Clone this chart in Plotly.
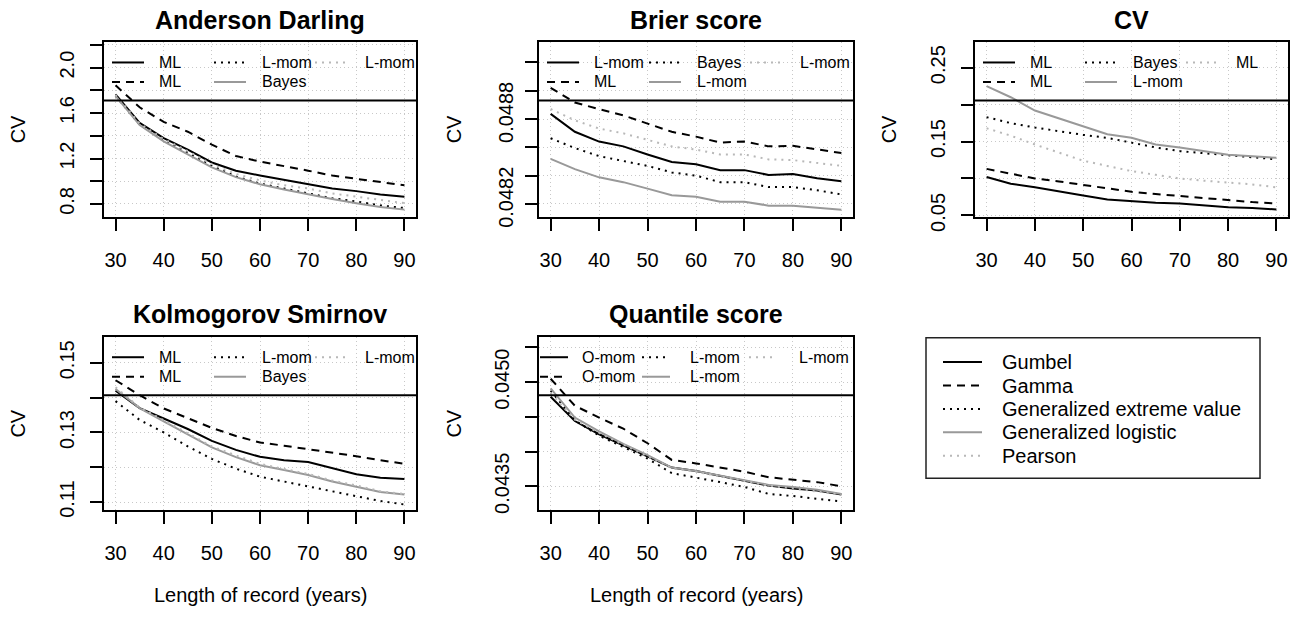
import plotly.graph_objects as go

W, H = 1295, 625

# ---------------- data ----------------
years = [30, 35, 40, 45, 50, 55, 60, 65, 70, 75, 80, 85, 90]

# Anderson Darling
ad_gum = [1.765, 1.514, 1.379, 1.279, 1.165, 1.093, 1.050, 1.013, 0.979, 0.936, 0.913, 0.884, 0.864]
ad_gam = [1.845, 1.651, 1.522, 1.436, 1.322, 1.222, 1.173, 1.136, 1.093, 1.050, 1.021, 0.993, 0.964]
ad_gev = [1.751, 1.499, 1.365, 1.250, 1.136, 1.041, 0.979, 0.936, 0.893, 0.850, 0.822, 0.787, 0.764]
ad_glo = [1.751, 1.494, 1.351, 1.236, 1.122, 1.036, 0.973, 0.927, 0.884, 0.844, 0.807, 0.773, 0.750]
ad_pe3 = [1.760, 1.508, 1.371, 1.265, 1.150, 1.064, 1.007, 0.964, 0.936, 0.893, 0.864, 0.836, 0.807]

# Brier score
bs_gum = [0.048787, 0.048660, 0.048591, 0.048557, 0.048500, 0.048447, 0.048431, 0.048389, 0.048389, 0.048355, 0.048362, 0.048331, 0.048311]
bs_gam = [0.048971, 0.048867, 0.048820, 0.048776, 0.048718, 0.048660, 0.048626, 0.048584, 0.048591, 0.048557, 0.048561, 0.048538, 0.048510]
bs_gev = [0.048614, 0.048545, 0.048488, 0.048453, 0.048419, 0.048373, 0.048350, 0.048304, 0.048304, 0.048269, 0.048269, 0.048247, 0.048217]
bs_glo = [0.048469, 0.048396, 0.048338, 0.048304, 0.048258, 0.048212, 0.048200, 0.048166, 0.048166, 0.048138, 0.048138, 0.048124, 0.048109]
bs_pe3 = [0.048821, 0.048741, 0.048683, 0.048649, 0.048603, 0.048557, 0.048534, 0.048500, 0.048500, 0.048465, 0.048460, 0.048442, 0.048419]

# CV
cv_gum = [0.102, 0.093, 0.088, 0.082, 0.077, 0.0715, 0.069, 0.067, 0.066, 0.063, 0.061, 0.060, 0.058]
cv_gam = [0.113, 0.106, 0.100, 0.096, 0.091, 0.086, 0.082, 0.079, 0.076, 0.073, 0.070, 0.068, 0.066]
cv_gev = [0.183, 0.175, 0.169, 0.164, 0.159, 0.155, 0.148, 0.142, 0.137, 0.134, 0.131, 0.128, 0.126]
cv_glo = [0.225, 0.210, 0.192, 0.181, 0.170, 0.160, 0.155, 0.146, 0.142, 0.137, 0.132, 0.130, 0.128]
cv_pe3 = [0.168, 0.158, 0.146, 0.135, 0.124, 0.117, 0.110, 0.105, 0.100, 0.097, 0.095, 0.092, 0.088]

# Kolmogorov Smirnov
ks_gum = [0.1420, 0.1370, 0.1340, 0.1310, 0.1276, 0.1250, 0.1230, 0.1220, 0.1215, 0.1197, 0.1180, 0.1170, 0.1166]
ks_gam = [0.1450, 0.1407, 0.1369, 0.1340, 0.1313, 0.1290, 0.1271, 0.1262, 0.1252, 0.1243, 0.1232, 0.1220, 0.1210]
ks_gev = [0.1390, 0.1336, 0.1300, 0.1260, 0.1224, 0.1196, 0.1173, 0.1159, 0.1145, 0.1131, 0.1117, 0.1103, 0.1093]
ks_glo = [0.1425, 0.1370, 0.1332, 0.1294, 0.1257, 0.1229, 0.1206, 0.1192, 0.1178, 0.1159, 0.1145, 0.1129, 0.1122]
ks_pe3 = [0.1430, 0.1372, 0.1335, 0.1297, 0.1260, 0.1234, 0.1210, 0.1195, 0.1181, 0.1162, 0.1148, 0.1131, 0.1123]

# Quantile score
qs_gum = [0.04479, 0.04444, 0.04425, 0.04409, 0.04393, 0.04377, 0.04372, 0.04365, 0.04359, 0.04351, 0.04347, 0.04344, 0.04338]
qs_gam = [0.04505, 0.04466, 0.04449, 0.04433, 0.04412, 0.04388, 0.04383, 0.04377, 0.04371, 0.04363, 0.04359, 0.04356, 0.04350]
qs_gev = [0.04488, 0.04445, 0.04423, 0.04407, 0.04390, 0.04369, 0.04363, 0.04356, 0.04349, 0.04339, 0.04336, 0.04332, 0.04328]
qs_glo = [0.04491, 0.04449, 0.04429, 0.04411, 0.04395, 0.04377, 0.04372, 0.04365, 0.04359, 0.04352, 0.04349, 0.04345, 0.04339]
qs_pe3 = [0.04484, 0.04446, 0.04427, 0.04410, 0.04394, 0.04376, 0.04371, 0.04364, 0.04358, 0.04351, 0.04347, 0.04343, 0.04338]

dist_names = ["Gumbel", "Gamma", "Generalized extreme value", "Generalized logistic", "Pearson"]

x_ticks = [30, 40, 50, 60, 70, 80, 90]

ad_ticks = [0.8, 1.0, 1.2, 1.4, 1.6, 1.8, 2.0, 2.2]
ad_labels = ["0.8", "", "1.2", "", "1.6", "", "2.0", ""]
bs_ticks = [0.04815, 0.04835, 0.04855, 0.04875, 0.04895, 0.04915]
bs_labels = ["", "", "", "", "", ""]
bs_label_vals = [0.0482, 0.0488]
bs_label_text = ["0.0482", "0.0488"]
cv_ticks = [0.05, 0.10, 0.15, 0.20, 0.25]
cv_labels = ["0.05", "", "0.15", "", "0.25"]
ks_ticks = [0.11, 0.12, 0.13, 0.14, 0.15]
ks_labels = ["0.11", "", "0.13", "", "0.15"]
qs_ticks = [0.0435, 0.0440, 0.0445, 0.0450, 0.0455]
qs_labels = ["0.0435", "", "", "0.0450", ""]

# ---------------- styles ----------------
FONT = "Liberation Sans, Arial, Helvetica, sans-serif"
STYLES = [
    dict(color="black", width=2, dash="solid"),
    dict(color="black", width=2, dash="8px,6px"),
    dict(color="black", width=2, dash="2px,5px"),
    dict(color="#999999", width=2, dash="solid"),
    dict(color="#b8b8b8", width=2, dash="2px,5px"),
]

panels = [
    dict(title="Anderson Darling", series=[ad_gum, ad_gam, ad_gev, ad_glo, ad_pe3],
         box=(104, 43, 416, 222), yrange=[0.688, 2.226], tv=ad_ticks, tt=ad_labels,
         leg=["ML", "ML", "L-mom", "Bayes", "L-mom"], legpos="std", ylabx=18, xlab=False),
    dict(title="Brier score", series=[bs_gum, bs_gam, bs_gev, bs_glo, bs_pe3],
         box=(539, 43, 853, 222), yrange=[0.04806, 0.049295], tv=bs_ticks, tt=bs_labels,
         leg=["L-mom", "ML", "Bayes", "L-mom", "L-mom"], legpos="std", ylabx=454, xlab=False),
    dict(title="CV", series=[cv_gum, cv_gam, cv_gev, cv_glo, cv_pe3],
         box=(975, 43, 1288, 222), yrange=[0.0483, 0.2848], tv=cv_ticks, tt=cv_labels,
         leg=["ML", "ML", "Bayes", "L-mom", "ML"], legpos="std", ylabx=889, xlab=False),
    dict(title="Kolmogorov Smirnov", series=[ks_gum, ks_gam, ks_gev, ks_glo, ks_pe3],
         box=(104, 345, 416, 523), yrange=[0.1076, 0.1575], tv=ks_ticks, tt=ks_labels,
         leg=["ML", "ML", "L-mom", "Bayes", "L-mom"], legpos="std", ylabx=18, xlab=True),
    dict(title="Quantile score", series=[qs_gum, qs_gam, qs_gev, qs_glo, qs_pe3],
         box=(539, 345, 853, 523), yrange=[0.043152, 0.045655], tv=qs_ticks, tt=qs_labels,
         leg=["O-mom", "O-mom", "L-mom", "L-mom", "L-mom"], legpos="wide", ylabx=454, xlab=True),
]

LEG_LAYOUT = {
    "std": dict(line_x=[8, 110, 211], line_len=32, text_x=[53, 156, 259]),
    "wide": dict(line_x=[1, 103, 210], line_len=28, text_x=[41, 149, 258]),
}


def px(x):
    return x / W


def py(y):
    return 1 - y / H


fig = go.Figure()
shapes = []
annotations = []
layout_axes = {}

for i, p in enumerate(panels):
    n = i + 1
    sfx = "" if n == 1 else str(n)
    L, T, R, B = p["box"]
    for vals, st in zip(p["series"], STYLES):
        fig.add_trace(go.Scatter(x=years, y=vals, mode="lines", line=st,
                                 xaxis="x" + sfx, yaxis="y" + sfx,
                                 showlegend=False, hoverinfo="skip"))
    common = dict(showline=True, mirror=True, linecolor="black", linewidth=2,
                  ticks="outside", ticklen=12, tickwidth=1.5, tickcolor="black",
                  showgrid=True, gridcolor="#c8c8c8", griddash="1px,3px", gridwidth=1,
                  zeroline=False, tickfont=dict(family=FONT, size=20, color="black"))
    layout_axes["xaxis" + sfx] = dict(common, domain=[px(L), px(R)], range=[27.6, 92.4],
                                      tickvals=x_ticks, anchor="y" + sfx,
                                      ticklabelstandoff=12)
    layout_axes["yaxis" + sfx] = dict(common, domain=[py(B), py(T)], range=p["yrange"],
                                      tickvals=p["tv"], ticktext=p["tt"], tickmode="array",
                                      tickangle=-90, anchor="x" + sfx,
                                      ticklabelstandoff=8)
    # title
    annotations.append(dict(text="<b>%s</b>" % p["title"], x=px((L + R) / 2), y=py(T - 23),
                            xref="paper", yref="paper", showarrow=False,
                            xanchor="center", yanchor="middle",
                            font=dict(family=FONT, size=25, color="black")))
    # y label
    annotations.append(dict(text="CV", x=px(p["ylabx"]), y=py((T + B) / 2),
                            xref="paper", yref="paper", showarrow=False, textangle=-90,
                            xanchor="center", yanchor="middle",
                            font=dict(family=FONT, size=20, color="black")))
    if p["xlab"]:
        annotations.append(dict(text="Length of record (years)", x=px((L + R) / 2), y=py(610),
                                xref="paper", yref="paper", showarrow=False,
                                xanchor="center", yanchor="middle",
                                font=dict(family=FONT, size=20, color="black")))
    # legend box bottom edge
    shapes.append(dict(type="line", xref="paper", yref="paper",
                       x0=px(L), x1=px(R), y0=py(T + 60), y1=py(T + 60),
                       line=dict(color="black", width=2)))
    lay = LEG_LAYOUT[p["legpos"]]
    for k, (lab, st) in enumerate(zip(p["leg"], STYLES)):
        col, row = k // 2, k % 2
        yy = T + 21 + 20 * row
        shapes.append(dict(type="line", xref="paper", yref="paper",
                           x0=px(L + lay["line_x"][col]),
                           x1=px(L + lay["line_x"][col] + lay["line_len"]),
                           y0=py(yy), y1=py(yy), line=st))
        annotations.append(dict(text=lab, x=px(L + lay["text_x"][col]), y=py(yy),
                                xref="paper", yref="paper", showarrow=False,
                                xanchor="left", yanchor="middle",
                                font=dict(family=FONT, size=16, color="black")))

# Brier tick labels (drawn between ticks as in reference)
L2 = panels[1]["box"][0]
for v, t in zip(bs_label_vals, bs_label_text):
    annotations.append(dict(text=t, x=px(L2 - 33), y=v, xref="paper", yref="y2",
                            showarrow=False, textangle=-90, xanchor="center", yanchor="middle",
                            font=dict(family=FONT, size=20, color="black")))

# main legend
shapes.append(dict(type="rect", xref="paper", yref="paper",
                   x0=px(926), x1=px(1260), y0=py(490), y1=py(346),
                   line=dict(color="#222222", width=1.5)))
for k, (name, st) in enumerate(zip(dist_names, STYLES)):
    yy = 371 + 24 * k
    shapes.append(dict(type="line", xref="paper", yref="paper",
                       x0=px(943), x1=px(982), y0=py(yy), y1=py(yy), line=st))
    annotations.append(dict(text=name, x=px(1000), y=py(yy), xref="paper", yref="paper",
                            showarrow=False, xanchor="left", yanchor="middle",
                            font=dict(family=FONT, size=20, color="black")))

fig.update_layout(width=W, height=H, autosize=False,
                  margin=dict(l=0, r=0, t=0, b=0, pad=0),
                  paper_bgcolor="white", plot_bgcolor="white",
                  font=dict(family=FONT, color="black"),
                  shapes=shapes, annotations=annotations, **layout_axes)

fig.write_html("out.html", config={"displayModeBar": False},
               post_script="document.body.style.margin='0';document.body.style.overflow='hidden';")
